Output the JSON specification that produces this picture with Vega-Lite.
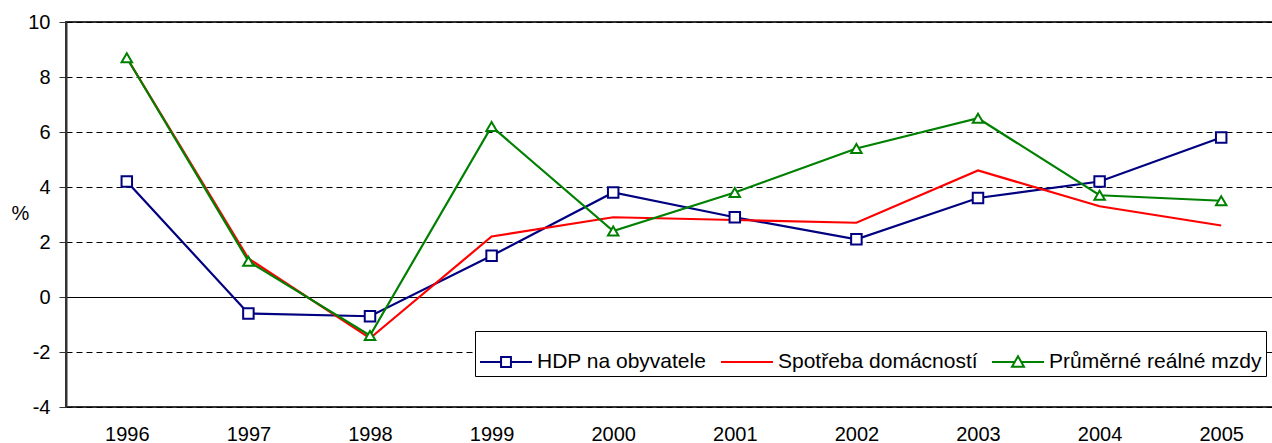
{
  "$schema": "https://vega.github.io/schema/vega-lite/v6.json",
  "width": 1216,
  "height": 385,
  "autosize": {"type": "none"},
  "padding": {"left": 66, "top": 22, "right": 0, "bottom": 36},
  "background": "white",
  "config": {
    "font": "Liberation Sans",
    "view": {"stroke": "#333333", "strokeWidth": 2},
    "axis": {"labelFont": "Liberation Sans", "labelFontSize": 20, "labelColor": "black", "titleFont": "Liberation Sans", "titleFontSize": 20, "titleFontWeight": "normal", "titleColor": "black"}
  },
  "data": {"values": [
    {"year": "1996", "series": "HDP na obyvatele", "v": 4.2},
    {"year": "1997", "series": "HDP na obyvatele", "v": -0.6},
    {"year": "1998", "series": "HDP na obyvatele", "v": -0.7},
    {"year": "1999", "series": "HDP na obyvatele", "v": 1.5},
    {"year": "2000", "series": "HDP na obyvatele", "v": 3.8},
    {"year": "2001", "series": "HDP na obyvatele", "v": 2.9},
    {"year": "2002", "series": "HDP na obyvatele", "v": 2.1},
    {"year": "2003", "series": "HDP na obyvatele", "v": 3.6},
    {"year": "2004", "series": "HDP na obyvatele", "v": 4.2},
    {"year": "2005", "series": "HDP na obyvatele", "v": 5.8},
    {"year": "1996", "series": "Spotřeba domácností", "v": 8.7},
    {"year": "1997", "series": "Spotřeba domácností", "v": 1.4},
    {"year": "1998", "series": "Spotřeba domácností", "v": -1.5},
    {"year": "1999", "series": "Spotřeba domácností", "v": 2.2},
    {"year": "2000", "series": "Spotřeba domácností", "v": 2.9},
    {"year": "2001", "series": "Spotřeba domácností", "v": 2.8},
    {"year": "2002", "series": "Spotřeba domácností", "v": 2.7},
    {"year": "2003", "series": "Spotřeba domácností", "v": 4.6},
    {"year": "2004", "series": "Spotřeba domácností", "v": 3.3},
    {"year": "2005", "series": "Spotřeba domácností", "v": 2.6},
    {"year": "1996", "series": "Průměrné reálné mzdy", "v": 8.7},
    {"year": "1997", "series": "Průměrné reálné mzdy", "v": 1.3},
    {"year": "1998", "series": "Průměrné reálné mzdy", "v": -1.4},
    {"year": "1999", "series": "Průměrné reálné mzdy", "v": 6.2},
    {"year": "2000", "series": "Průměrné reálné mzdy", "v": 2.4},
    {"year": "2001", "series": "Průměrné reálné mzdy", "v": 3.8},
    {"year": "2002", "series": "Průměrné reálné mzdy", "v": 5.4},
    {"year": "2003", "series": "Průměrné reálné mzdy", "v": 6.5},
    {"year": "2004", "series": "Průměrné reálné mzdy", "v": 3.7},
    {"year": "2005", "series": "Průměrné reálné mzdy", "v": 3.5}
  ]},
  "encoding": {
    "x": {"field": "year", "type": "ordinal", "scale": {"type": "point", "padding": 0.5},
      "axis": {"title": null, "labelAngle": 0, "ticks": false, "domain": false, "labelPadding": 17, "grid": false, "labelFontSize": 20}},
    "y": {"field": "v", "type": "quantitative", "scale": {"domain": [-4, 10], "nice": false, "zero": false},
      "axis": {"title": "%", "titleAngle": 0, "titleX": -46, "titleY": 191, "titleBaseline": "middle", "titleAlign": "center", "titleFontSize": 20,
        "values": [-4, -2, 0, 2, 4, 6, 8, 10], "labelExpr": "datum.value", "labelFontSize": 20,
        "tickSize": 7, "tickColor": "#333333", "tickWidth": 1, "labelPadding": 9,
        "domainColor": "#333333", "domainWidth": 2, "grid": true, "gridColor": "#000000", "gridWidth": 1, "gridOpacity": 1,
        "gridDash": {"condition": {"test": "datum.value === 0", "value": []}, "value": [6, 4]}}}
  },
  "layer": [
    {
      "mark": {"type": "line", "strokeWidth": 2.2},
      "encoding": {
        "color": {"field": "series", "type": "nominal",
          "scale": {"domain": ["HDP na obyvatele", "Spotřeba domácností", "Průměrné reálné mzdy"], "range": ["#000080", "#FF0000", "#008000"]},
          "legend": {"title": null, "orient": "none", "legendX": 409, "legendY": 309, "direction": "horizontal",
            "fillColor": "white", "strokeColor": "#000000", "padding": 4, "columnPadding": 10,
            "labelFont": "Liberation Sans", "labelFontSize": 21, "labelColor": "black", "labelOffset": 4, "labelLimit": 400,
            "symbolSize": 2704, "symbolStrokeWidth": 2, "symbolFillColor": "white",
            "encode": {"symbols": {"update": {
              "shape": {"signal": "datum.value === 'HDP na obyvatele' ? 'M-1,0H-0.19M0.19,0H1M-0.19,-0.19H0.19V0.19H-0.19Z' : (datum.value === 'Průměrné reálné mzdy' ? 'M-1,0H-0.13M0.13,0H1M0,-0.22L0.23,0.18H-0.23Z' : 'M-1,0H1')"},
              "fill": {"value": "white"},
              "strokeWidth": {"value": 2}
            }}}
          }
        }
      }
    },
    {
      "transform": [{"filter": "datum.series !== 'Spotřeba domácností'"}],
      "mark": {"type": "point", "filled": false, "fill": "white", "strokeWidth": 2, "size": 110, "opacity": 1},
      "encoding": {
        "color": {"field": "series", "type": "nominal"},
        "shape": {"field": "series", "type": "nominal",
          "scale": {"domain": ["HDP na obyvatele", "Průměrné reálné mzdy"], "range": ["square", "triangle-up"]},
          "legend": null}
      }
    }
  ]
}
